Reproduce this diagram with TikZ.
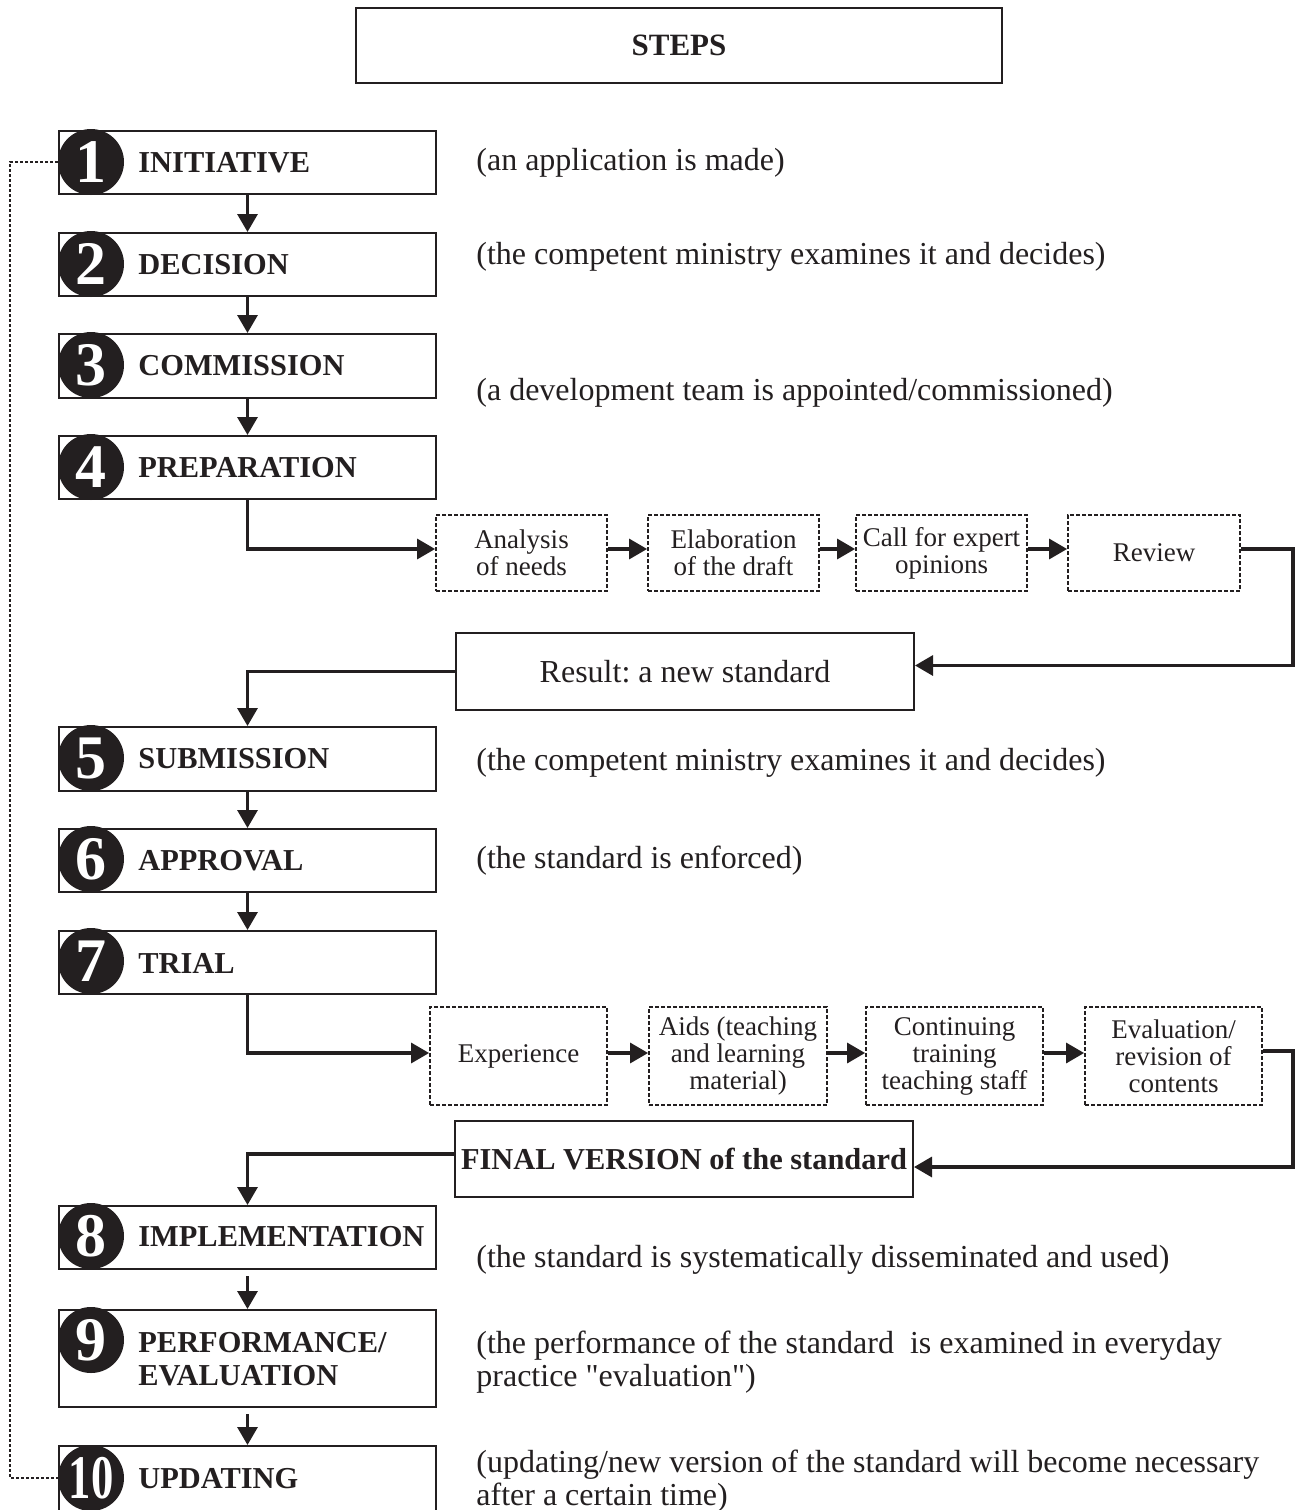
\documentclass[tikz,border=0pt]{standalone}
\usepackage{fontspec}
\setmainfont{Liberation Serif}
\usetikzlibrary{arrows.meta}
\definecolor{ink}{HTML}{231F20}
\frenchspacing
\tikzset{
  every node/.style={text=ink},
  stepbox/.style={draw=ink, line width=1pt, rectangle, inner sep=0pt},
  numdisc/.style={circle, fill=ink, minimum size=33pt, inner sep=0pt,
    text=white, font=\fontsize{31}{31}\selectfont\bfseries},
  steplabel/.style={anchor=west, inner sep=0pt,
    font=\fontsize{15.2}{16.5}\selectfont\bfseries, align=left},
  note/.style={anchor=west, inner sep=0pt,
    font=\fontsize{16}{16.5}\selectfont, align=left},
  subbox/.style={draw=ink, line width=0.9pt, dash pattern=on 2pt off 1pt,
    rectangle, inner sep=0pt, align=center,
    font=\fontsize{13.5}{13.5}\selectfont},
  conn/.style={draw=ink, line width=1.6pt,
    -{Triangle[length=9pt,width=10pt]}},
  feedback/.style={draw=ink, line width=0.7pt, dash pattern=on 1.5pt off 1pt},
}
\begin{document}
\begin{tikzpicture}[x=0.5pt, y=-0.5pt]
\useasboundingbox (0,0) rectangle (1297,1510);

% title
\node[stepbox, minimum width=323pt, minimum height=37.5pt,
  font=\fontsize{15.5}{16}\selectfont\bfseries] (title) at (679,45.5) {STEPS};

% main step boxes
\node[stepbox, minimum width=188.5pt, minimum height=31.5pt] (s1) at (247.5,162.5) {};
\node[stepbox, minimum width=188.5pt, minimum height=31.5pt] (s2) at (247.5,264.5) {};
\node[stepbox, minimum width=188.5pt, minimum height=32pt] (s3) at (247.5,366) {};
\node[stepbox, minimum width=188.5pt, minimum height=31.5pt] (s4) at (247.5,467.5) {};
\node[stepbox, minimum width=188.5pt, minimum height=32pt] (s5) at (247.5,759) {};
\node[stepbox, minimum width=188.5pt, minimum height=31.5pt] (s6) at (247.5,860.5) {};
\node[stepbox, minimum width=188.5pt, minimum height=31.5pt] (s7) at (247.5,962.5) {};
\node[stepbox, minimum width=188.5pt, minimum height=31.5pt] (s8) at (247.5,1237.5) {};
\node[stepbox, minimum width=188.5pt, minimum height=48.5pt] (s9) at (247.5,1358.5) {};
\node[stepbox, minimum width=188.5pt, minimum height=35pt] (s10) at (247.5,1481) {};

% feedback loop from updating back to the initiative
\draw[feedback] (58,162) -- (10,162) |- (58,1478);

% numbered discs
\node[numdisc] (c1) at (91,162) {1};
\node[numdisc] (c2) at (91,264) {2};
\node[numdisc] (c3) at (91,365) {3};
\node[numdisc] (c4) at (91,467) {4};
\node[numdisc] (c5) at (91,758) {5};
\node[numdisc] (c6) at (91,859) {6};
\node[numdisc] (c7) at (91,961) {7};
\node[numdisc] (c8) at (91,1236) {8};
\node[numdisc] (c9) at (91,1340) {9};
\node[numdisc] (c10) at (91,1478) {\scalebox{0.72}[1]{10}};

% step labels
\node[steplabel] (l1) at (138,163) {INITIATIVE};
\node[steplabel] (l2) at (138,265) {DECISION};
\node[steplabel] (l3) at (138,366) {COMMISSION};
\node[steplabel] (l4) at (138,468) {PREPARATION};
\node[steplabel] (l5) at (138,759) {SUBMISSION};
\node[steplabel] (l6) at (138,861) {APPROVAL};
\node[steplabel] (l7) at (138,963) {TRIAL};
\node[steplabel] (l8) at (138,1237) {IMPLEMENTATION};
\node[steplabel] (l9) at (138,1359) {PERFORMANCE/\\EVALUATION};
\node[steplabel] (l10) at (138,1479) {UPDATING};

% remarks
\node[note] (n1) at (476,163) {(an application is made)};
\node[note] (n2) at (476,257) {(the competent ministry examines it and decides)};
\node[note] (n3) at (476,393) {(a development team is appointed/commissioned)};
\node[note] (n5) at (476,763) {(the competent ministry examines it and decides)};
\node[note] (n6) at (476,861) {(the standard is enforced)};
\node[note] (n8) at (476,1260) {(the standard is systematically disseminated and used)};
\node[note] (n9) at (476,1362) {(the performance of the standard\ \ is examined in everyday\\practice \textquotedbl evaluation\textquotedbl)};
\node[note] (n10) at (476,1481) {(updating/new version of the standard will become necessary\\after a certain time)};

% vertical flow
\draw[conn] (s1) -- (s2);
\draw[conn] (s2) -- (s3);
\draw[conn] (s3) -- (s4);
\draw[conn] (s5) -- (s6);
\draw[conn] (s6) -- (s7);
\draw[conn] ([yshift=-3pt]s8.south) -- (s9.north);
\draw[conn] ([yshift=-3pt]s9.south) -- (s10.north);

% preparation stage
\node[subbox, minimum width=85.5pt, minimum height=38pt] (p1) at (521.5,553) {Analysis\\of needs};
\node[subbox, minimum width=85.5pt, minimum height=38pt] (p2) at (733.5,553) {Elaboration\\of the draft};
\node[subbox, minimum width=85.5pt, minimum height=38pt] (p3) at (941.5,553) {Call for expert\\opinions};
\node[subbox, minimum width=86pt, minimum height=38pt] (p4) at (1154,553) {Review};
\node[stepbox, minimum width=229pt, minimum height=38.5pt,
  font=\fontsize{16}{16}\selectfont] (res) at (685,671.5) {Result: a new standard};

\draw[conn] (s4.south) |- ([yshift=2pt]p1.west);
\draw[conn] ([yshift=2pt]p1.east) -- ([yshift=2pt]p2.west);
\draw[conn] ([yshift=2pt]p2.east) -- ([yshift=2pt]p3.west);
\draw[conn] ([yshift=2pt]p3.east) -- ([yshift=2pt]p4.west);
\draw[conn] ([yshift=2pt]p4.east) -- ++(52,0) |- ([yshift=3pt]res.east);
\draw[conn] (res.west) -| (s5.north);

% trial stage
\node[subbox, minimum width=88.5pt, minimum height=49pt] (t1) at (518.5,1056) {Experience};
\node[subbox, minimum width=89pt, minimum height=49pt] (t2) at (738,1056) {Aids (teaching\\and learning\\material)};
\node[subbox, minimum width=88.5pt, minimum height=49pt] (t3) at (954.5,1056) {Continuing\\training\\teaching staff};
\node[subbox, minimum width=88.5pt, minimum height=49pt] (t4) at (1173.5,1056) {Evaluation/\\revision of\\contents};
\node[stepbox, minimum width=229pt, minimum height=38pt,
  font=\fontsize{15.2}{16}\selectfont\bfseries] (fin) at (684,1159) {FINAL VERSION of the standard};

\draw[conn] (s7.south) |- ([yshift=1.5pt]t1.west);
\draw[conn] ([yshift=1.5pt]t1.east) -- ([yshift=1.5pt]t2.west);
\draw[conn] ([yshift=1.5pt]t2.east) -- ([yshift=1.5pt]t3.west);
\draw[conn] ([yshift=1.5pt]t3.east) -- ([yshift=1.5pt]t4.west);
\draw[conn] ([yshift=2.5pt]t4.east) -- ++(30,0) |- ([yshift=-4pt]fin.east);
\draw[conn] ([yshift=2.5pt]fin.west) -| (s8.north);
\end{tikzpicture}
\end{document}
